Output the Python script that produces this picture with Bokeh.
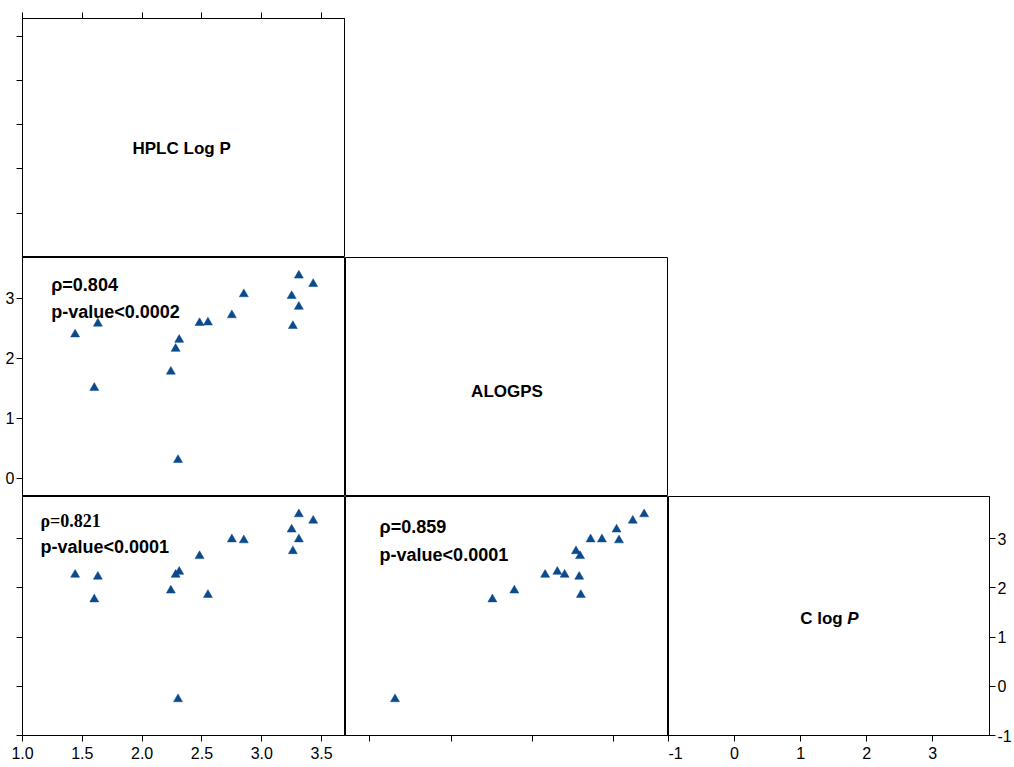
from bokeh.plotting import figure
from bokeh.layouts import column, row
from bokeh.models import (Range1d, LinearAxis, FixedTicker, Label,
                          PrintfTickFormatter, CustomJSTickFormatter, ColumnDataSource)
from bokeh.embed import file_html
from bokeh.resources import INLINE

# ---------------- data ----------------
hplc_logp = [1.44, 1.63, 1.60, 2.24, 2.28, 2.31, 2.30, 2.48, 2.55, 2.75, 2.85, 3.25, 3.26, 3.31, 3.31, 3.43]
alogps    = [2.40, 2.58, 1.51, 1.78, 2.16, 2.31, 0.31, 2.59, 2.60, 2.72, 3.07, 3.04, 2.54, 2.86, 3.38, 3.24]
clogp     = [2.27, 2.23, 1.77, 1.95, 2.27, 2.33, -0.26, 2.65, 1.86, 2.99, 2.97, 3.19, 2.75, 2.99, 3.50, 3.37]

hplc_ticks = [1.0, 1.5, 2.0, 2.5, 3.0, 3.5]
alogps_ticks = [0, 1, 2, 3]
clogp_ticks = [-1, 0, 1, 2, 3]

var_names = ["HPLC Log P", "ALOGPS", "C log", "P"]
rho_labels = ["\u03c1=0.804", "\u03c1=0.821", "\u03c1=0.859"]
p_labels = ["p-value<0.0002", "p-value<0.0001", "p-value<0.0001"]

# ---------------- styling / layout ----------------
HPLC_R = (1.0, 3.70)
ALOGPS_R = (-0.30, 3.68)
CLOGP_R = (-1.0, 3.86)

W, H = 323, 239
LB, RB, TB, BB = 22, 23, 18, 30
MARK = "#0b4a8c"
FONT = "Liberation Sans"
SERIF = "Liberation Serif"

src = ColumnDataSource(dict(hplc=hplc_logp, alogps=alogps, clogp=clogp))


def make_panel(xr, yr, left=0, right=0, top=0, bottom=0):
    p = figure(width=W + left + right, height=H + top + bottom,
               x_range=Range1d(*xr), y_range=Range1d(*yr),
               output_backend="svg", toolbar_location=None,
               x_axis_location=None, y_axis_location=None,
               min_border_left=left, min_border_right=right,
               min_border_top=top, min_border_bottom=bottom)
    p.grid.visible = False
    p.outline_line_color = "black"
    p.outline_line_width = 1
    p.outline_line_alpha = 1.0
    p.background_fill_color = "white"
    p.border_fill_color = "white"
    return p


def add_axis(p, side, ticks, labeled, fmt="%d", standoff=2):
    ax = LinearAxis(ticker=FixedTicker(ticks=ticks, minor_ticks=[]))
    ax.axis_line_color = "black"
    ax.axis_line_width = 1
    ax.major_tick_line_color = "black"
    ax.major_tick_out = 6
    ax.major_tick_in = 0
    ax.minor_tick_line_color = None
    if labeled:
        ax.formatter = PrintfTickFormatter(format=fmt)
        ax.major_label_text_font = FONT
        ax.major_label_text_font_size = "16px"
        ax.major_label_text_color = "black"
        ax.major_label_standoff = standoff
    else:
        ax.formatter = CustomJSTickFormatter(code="return ''")
        ax.major_label_text_font_size = "0px"
        ax.major_label_standoff = 0
    p.add_layout(ax, side)
    return ax


def add_text(p, x, y, text, size="18px", style="bold", font=FONT, align="left", x_offset=0):
    p.add_layout(Label(x=x, y=y, text=text, text_font=font, text_font_style=style,
                       text_font_size=size, text_color="black", text_align=align,
                       text_baseline="middle", x_offset=x_offset))


def add_points(p, xcol, ycol):
    p.scatter(x=xcol, y=ycol, source=src, marker="triangle", size=9,
              fill_color=MARK, line_color=MARK, line_width=0.5)


# Row 1: HPLC diagonal
p1 = make_panel(HPLC_R, HPLC_R, left=LB, top=TB)
add_axis(p1, "above", hplc_ticks, False)
add_axis(p1, "left", hplc_ticks, False)
add_text(p1, 2.33, 2.23, var_names[0], size="17px", align="center")

# Row 2: ALOGPS vs HPLC, ALOGPS diagonal
p2 = make_panel(HPLC_R, ALOGPS_R, left=LB)
add_axis(p2, "left", alogps_ticks, True)
add_points(p2, "hplc", "alogps")
add_text(p2, 1.24, 3.23, rho_labels[0])
add_text(p2, 1.24, 2.78, p_labels[0])

p3 = make_panel(ALOGPS_R, ALOGPS_R)
add_text(p3, 1.69, 1.45, var_names[1], size="17px", align="center")

# Row 3: C log P vs HPLC, C log P vs ALOGPS, C log P diagonal
p4 = make_panel(HPLC_R, CLOGP_R, left=LB, bottom=BB)
add_axis(p4, "left", clogp_ticks, False)
add_axis(p4, "below", hplc_ticks, True, fmt="%.1f", standoff=5)
add_points(p4, "hplc", "clogp")
add_text(p4, 1.15, 3.36, rho_labels[1], size="18px", font=SERIF)
add_text(p4, 1.15, 2.83, p_labels[1])

p5 = make_panel(ALOGPS_R, CLOGP_R, bottom=BB)
add_axis(p5, "below", alogps_ticks, False)
add_points(p5, "alogps", "clogp")
add_text(p5, 0.12, 3.23, rho_labels[2])
add_text(p5, 0.12, 2.67, p_labels[2])

p6 = make_panel(CLOGP_R, CLOGP_R, right=RB, bottom=BB)
add_axis(p6, "below", clogp_ticks, True, standoff=5)
add_axis(p6, "right", clogp_ticks, True)
add_text(p6, 1.44, 1.37, var_names[2], size="17px", align="right", x_offset=13)
add_text(p6, 1.44, 1.37, var_names[3], size="17px", style="bold italic", align="left", x_offset=17.5)

layout = column(p1, row(p2, p3), row(p4, p5, p6))

open("out.html", "w").write(file_html(layout, INLINE, title="Pairs plot"))
